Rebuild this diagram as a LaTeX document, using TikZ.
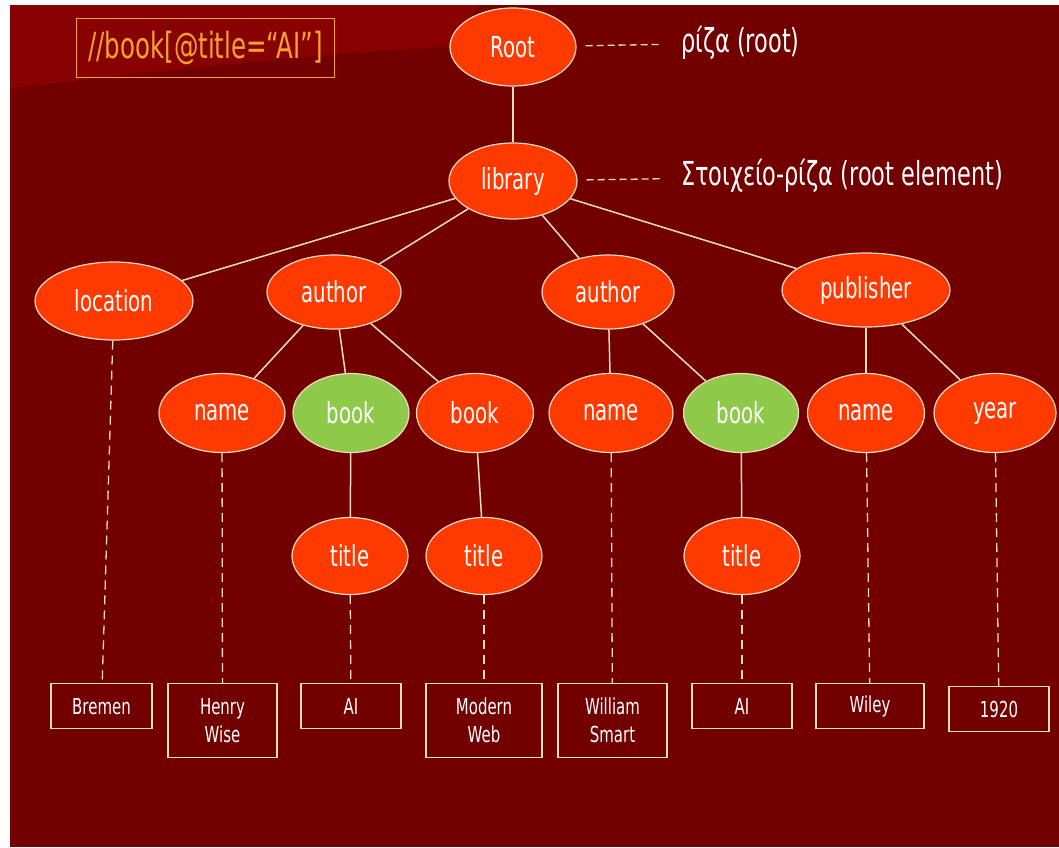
\documentclass[tikz,border=0pt]{standalone}
\usepackage{fontspec}
\setmainfont{DejaVu Sans}[FakeStretch=0.68]
\usetikzlibrary{shapes.geometric}
\definecolor{slidebg}{HTML}{720000}
\definecolor{slideband}{HTML}{880202}
\definecolor{nodered}{HTML}{FF3A00}
\definecolor{nodegreen}{HTML}{8FC94A}
\definecolor{edgecream}{HTML}{EFDCC4}
\definecolor{queryorange}{HTML}{F5A233}

\begin{document}
\begin{tikzpicture}[x=1pt,y=-1pt,
  elem/.style={ellipse,draw=edgecream,line width=1.2pt,fill=nodered,text=white,
    inner sep=0pt,font=\fontsize{29}{32}\selectfont},
  hit/.style={elem,fill=nodegreen},
  leaf/.style={draw=edgecream,line width=1.3pt,text=white,align=center,inner sep=0pt,
    minimum height=45pt,anchor=north,font=\fontsize{22}{28}\selectfont},
  tree/.style={draw=edgecream,line width=1.5pt},
  valueline/.style={draw=edgecream,line width=1.3pt,dash pattern=on 9pt off 6pt},
  noteline/.style={draw=edgecream,line width=1.3pt,dash pattern=on 7pt off 4pt,
    shorten <=9pt,shorten >=18pt},
  note/.style={text=white,anchor=west,inner sep=3pt,font=\fontsize{33}{36}\selectfont}]

  % Slide background
  \useasboundingbox (0,0) rectangle (1059,847);
  \fill[white] (0,0) rectangle (1059,847);
  \fill[slidebg] (10,5) rectangle (1059,847);
  \fill[slideband] (10,5) -- (10,88) .. controls (150,72) and (330,52) .. (450,47) -- (480,5) -- cycle;

  % Query
  \node[draw=queryorange,text=queryorange,line width=1.3pt,minimum width=258pt,
    minimum height=59pt,inner sep=0pt,font=\fontsize{36}{38}\selectfont] (query) at (205.5,48) {//book[@title=“AI”]};

  % Tree elements
  \node[elem,minimum width=126pt,minimum height=78pt] (root) at (513,47) {Root};
  \node[elem,minimum width=128pt,minimum height=76pt] (library) at (513,181) {library};

  \node[elem,minimum width=158pt,minimum height=78pt] (location) at (114,301) {location};
  \node[elem,minimum width=134pt,minimum height=74pt] (authorA) at (334,292) {author};
  \node[elem,minimum width=132pt,minimum height=74pt] (authorB) at (608,292) {author};
  \node[elem,minimum width=168pt,minimum height=74pt] (publisher) at (866,290) {publisher};

  \node[elem,minimum width=126pt,minimum height=79pt] (nameA) at (222,413) {name};
  \node[hit,minimum width=116pt,minimum height=79pt] (bookA) at (351,413) {book};
  \node[elem,minimum width=117pt,minimum height=79pt] (bookB) at (475,413) {book};
  \node[elem,minimum width=124pt,minimum height=79pt] (nameB) at (611,413) {name};
  \node[hit,minimum width=115pt,minimum height=79pt] (bookC) at (741,413) {book};
  \node[elem,minimum width=117pt,minimum height=79pt] (nameC) at (866,413) {name};
  \node[elem,minimum width=122pt,minimum height=79pt] (year) at (995,413) {year};

  \node[elem,minimum width=116pt,minimum height=77pt] (titleA) at (350,556) {title};
  \node[elem,minimum width=116pt,minimum height=77pt] (titleB) at (484,556) {title};
  \node[elem,minimum width=116pt,minimum height=77pt] (titleC) at (742,556) {title};

  % Notes
  \node[note] (rootnote) at (678,43) {ρίζα (root)};
  \node[note] (librarynote) at (678,176) {Στοιχείο-ρίζα (root element)};
  \draw[noteline] (root) -- (rootnote);
  \draw[noteline] (library) -- (librarynote);

  % Text values
  \node[leaf,minimum width=101pt] (bremen) at (101.5,683) {Bremen};
  \node[leaf,minimum width=109pt,minimum height=74pt] (henry) at (222.5,683) {Henry\\Wise};
  \node[leaf,minimum width=100pt] (aiA) at (351,683) {AI};
  \node[leaf,minimum width=116pt,minimum height=74pt] (modern) at (484,683) {Modern\\Web};
  \node[leaf,minimum width=109pt,minimum height=74pt] (william) at (612.5,683) {William\\Smart};
  \node[leaf,minimum width=100pt] (aiB) at (742,683) {AI};
  \node[leaf,minimum width=108pt] (wiley) at (870,683) {Wiley};
  \node[leaf,minimum width=100pt] (yearval) at (999,686) {1920};

  % Edges
  \draw[tree] (root) -- (library);
  \foreach \c in {location,authorA,authorB,publisher}
    \draw[tree] (library) -- (\c);
  \foreach \c in {nameA,bookA,bookB}
    \draw[tree] (authorA) -- (\c);
  \foreach \c in {nameB,bookC}
    \draw[tree] (authorB) -- (\c);
  \foreach \c in {nameC,year}
    \draw[tree] (publisher) -- (\c);
  \draw[tree] (bookA) -- (titleA);
  \draw[tree] (bookB) -- (titleB);
  \draw[tree] (bookC) -- (titleC);

  % Values
  \foreach \e/\v in {location/bremen,nameA/henry,titleA/aiA,titleB/modern,
                     nameB/william,titleC/aiB,nameC/wiley,year/yearval}
    \draw[valueline] (\e) -- (\v);

\end{tikzpicture}
\end{document}
